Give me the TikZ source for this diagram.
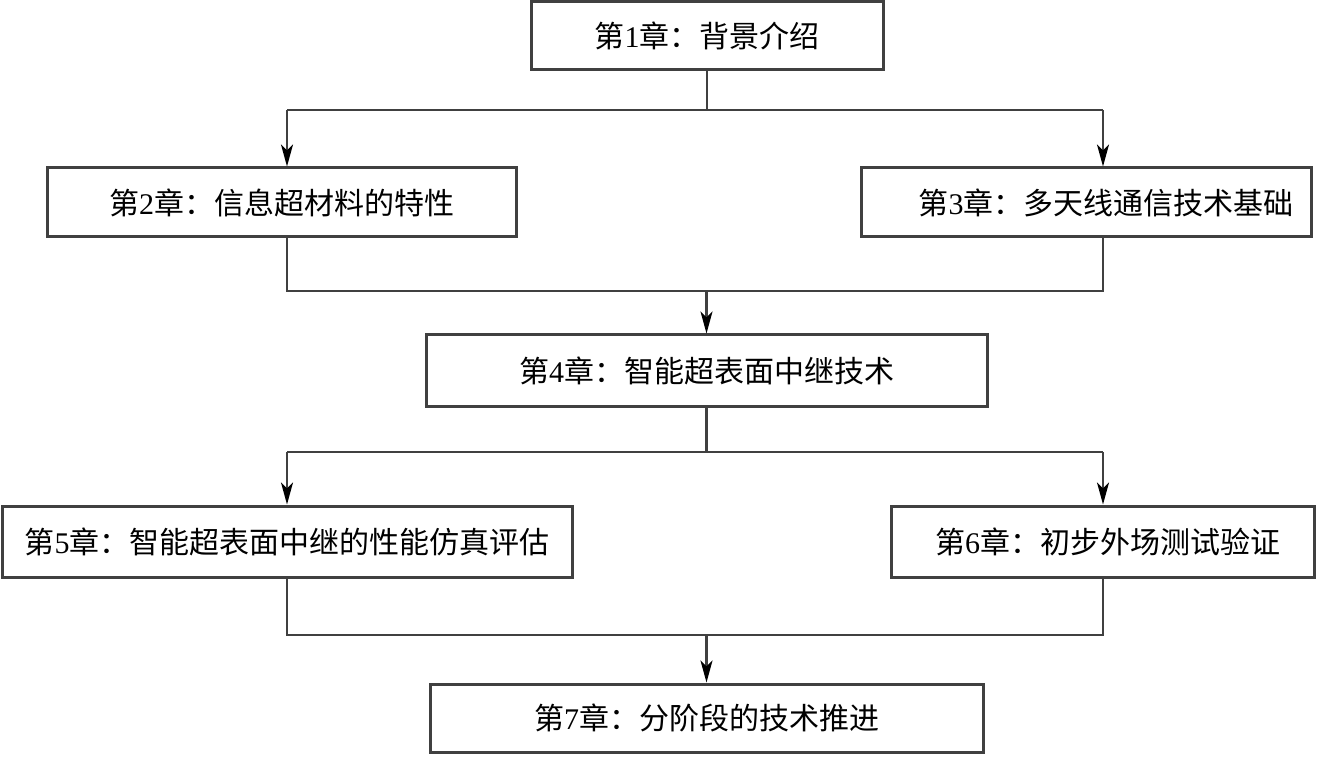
\documentclass[tikz,border=0pt]{standalone}
\usepackage{fontspec}
\setmainfont{Liberation Serif}
\newfontfamily\cjk{Noto Sans CJK SC}
\usetikzlibrary{arrows.meta}
\newcommand{\chap}[2]{{\cjk 第}#1{\cjk 章：#2}}
\begin{document}
\begin{tikzpicture}[x=1pt,y=-1pt,
  box/.style={draw=black!75,line width=3pt,fill=white,inner sep=0pt,
    font=\fontsize{30}{36}\selectfont,text=black},
  conn/.style={draw=black!75,line width=2.2pt},
  arr/.style={conn,-{Stealth[length=22pt,width=12pt,inset=6pt,fill=black,color=black]}}]
\useasboundingbox[fill=white] (0,0) rectangle (1328,759);
\node[box,minimum width=352pt,minimum height=68pt] (b1) at (707,36) {\chap{1}{背景介绍}};
\node[box,minimum width=469pt,minimum height=69pt] (b2) at (281.5,202.5) {\chap{2}{信息超材料的特性}};
\node[box,minimum width=450pt,minimum height=69pt] (b3) at (1086,202.5) {\hspace*{40pt}\chap{3}{多天线通信技术基础}};
\node[box,minimum width=561pt,minimum height=71pt] (b4) at (706.5,370.5) {\chap{4}{智能超表面中继技术}};
\node[box,minimum width=570pt,minimum height=71pt] (b5) at (287,541.5) {\chap{5}{智能超表面中继的性能仿真评估}};
\node[box,minimum width=423pt,minimum height=71pt] (b6) at (1102.5,541.5) {\hspace*{10pt}\chap{6}{初步外场测试验证}};
\node[box,minimum width=553pt,minimum height=68pt] (b7) at (706.5,718) {\chap{7}{分阶段的技术推进}};
\coordinate (L1) at (287,110);
\coordinate (R1) at (1103,110);
\coordinate (L2) at (287,291);
\coordinate (R2) at (1103,291);
\coordinate (L3) at (287,452);
\coordinate (R3) at (1103,452);
\coordinate (L4) at (287,635);
\coordinate (R4) at (1103,635);
% 1 -> 2,3
\draw[conn] (b1.south) -- (b1.south |- L1);
\draw[conn] (L1) -- (R1);
\draw[arr] (L1) -- (L1 |- b2.north);
\draw[arr] (R1) -- (R1 |- b3.north);
% 2,3 -> 4
\draw[conn] (L1 |- b2.south) -- (L2) -- (R2) -- (R1 |- b3.south);
\draw[arr] (b4.north |- L2) -- (b4.north);
% 4 -> 5,6
\draw[conn] (b4.south) -- (b4.south |- L3);
\draw[conn] (L3) -- (R3);
\draw[arr] (L3) -- (L3 |- b5.north);
\draw[arr] (R3) -- (R3 |- b6.north);
% 5,6 -> 7
\draw[conn] (L3 |- b5.south) -- (L4) -- (R4) -- (R3 |- b6.south);
\draw[arr] (b7.north |- L4) -- (b7.north);
\end{tikzpicture}
\end{document}
